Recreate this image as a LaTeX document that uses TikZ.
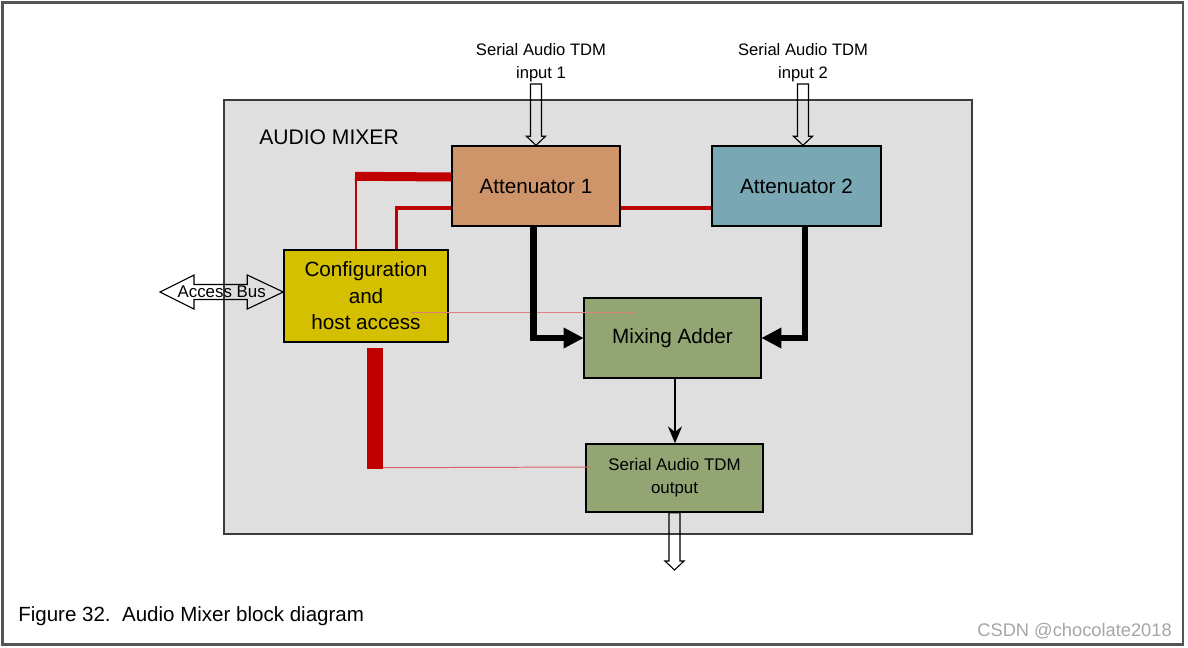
\documentclass[tikz,border=0pt]{standalone}
\usepackage{fontspec}
\setmainfont{Liberation Sans}
\usepackage{tikz}
\usetikzlibrary{positioning, arrows.meta, calc}

\definecolor{attone}{RGB}{207,149,106}
\definecolor{atttwo}{RGB}{122,167,180}
\definecolor{cfgyellow}{RGB}{212,192,0}
\definecolor{sumgreen}{RGB}{148,165,116}
\definecolor{mixgray}{RGB}{223,223,223}
\definecolor{mixedge}{RGB}{60,60,60}
\definecolor{framegray}{RGB}{85,85,85}
\definecolor{ctrlred}{RGB}{192,0,0}
\definecolor{markgray}{RGB}{165,165,165}

\begin{document}
\begin{tikzpicture}[
    x=0.025cm, y=-0.025cm,
    block/.style={draw, line width=1pt, align=center, inner sep=0pt, font=\fontsize{14.7}{18.8}\selectfont},
    tdm/.style={align=center, inner sep=1pt, font=\fontsize{11.8}{16.4}\selectfont},
    feed/.style={-{Triangle[length=14pt, width=15pt, line width=0pt]}, line width=4.3pt},
    sum/.style={-{Stealth[length=12pt, width=10pt]}, line width=1.4pt},
    redbar/.style={draw=ctrlred, line width=#1},
    fatdown/.style={draw, line width=0.8pt, to path={
        ($(\tikztostart)+(-5.5,0)$) -- ($(\tikztotarget)+(-5.5,-9)$) -- ($(\tikztotarget)+(-9.5,-9)$)
        -- (\tikztotarget) -- ($(\tikztotarget)+(9.5,-9)$) -- ($(\tikztotarget)+(5.5,-9)$)
        -- ($(\tikztostart)+(5.5,0)$) -- cycle}},
    fatboth/.style={draw, line width=0.8pt, to path={
        (\tikztostart) -- ($(\tikztostart)+(34,-17)$) -- ($(\tikztostart)+(34,-7.5)$)
        -- ($(\tikztotarget)+(-36,-7.5)$) -- ($(\tikztotarget)+(-36,-17)$) -- (\tikztotarget)
        -- ($(\tikztotarget)+(-36,17)$) -- ($(\tikztotarget)+(-36,7.5)$)
        -- ($(\tikztostart)+(34,7.5)$) -- ($(\tikztostart)+(34,17)$) -- cycle}}
]
    \useasboundingbox (0,0) rectangle (1188,647);
    \draw[line width=2.1pt, draw=framegray] (2.5,2.5) rectangle (1183,644.5);

    % NODES
    \node[draw=mixedge, line width=1.4pt, fill=mixgray, minimum width=18.7cm, minimum height=10.85cm] (mixer) at (598,317) {};
    \node[anchor=west, inner sep=0pt, font=\fontsize{15}{18}\selectfont] (title) at (259,137) {AUDIO MIXER};

    \node[block, fill=attone, minimum width=4.2cm, minimum height=2cm] (att1) at (536,186) {Attenuator 1};
    \node[block, fill=atttwo, minimum width=4.225cm, minimum height=2cm] (att2) at (796.5,186) {Attenuator 2};
    \node[block, fill=cfgyellow, minimum width=4.1cm, minimum height=2.3cm] (config) at (366,296) {Configuration\\and\\host access};
    \node[block, fill=sumgreen, minimum width=4.425cm, minimum height=2cm] (mix) at (672.5,338) {Mixing Adder};
    \node[block, fill=sumgreen, minimum width=4.425cm, minimum height=1.7cm, font=\fontsize{12}{16.4}\selectfont] (out) at (674.5,478) {Serial Audio TDM\\output};

    \node[tdm] (in1) at (541,63) {Serial Audio TDM\\input 1};
    \node[tdm] (in2) at (803,63) {Serial Audio TDM\\input 2};

    \coordinate (busend) at (160,292);
    \coordinate (outend) at (674.5,570);

    \node[anchor=west, inner sep=0pt, font=\fontsize{14.6}{17}\selectfont] (caption) at (18,616) {Figure 32.~~Audio Mixer block diagram};
    \node[anchor=east, inner sep=0pt, text=markgray, font=\fontsize{13}{15}\selectfont] (mark) at (1172,631) {CSDN @chocolate2018};

    % EDGES
    \draw[fatdown] (in1.south -| att1.north) to (att1.north);
    \draw[fatdown] (in2.south) to (in2.south |- att2.north);
    \draw[fatdown] (out.south) to (outend);
    \draw[fatboth] (busend) to (config.west |- busend);
    \node[inner sep=0pt, font=\fontsize{12}{14}\selectfont] (bus) at ($(busend)!0.5!(config.west |- busend)$) {Access Bus};

    \draw[redbar=6.4pt] ($(att1.west)+(0,-9)$) -- ($(config.north)+(-11,-73)$);
    \draw[redbar=1.4pt] ($(config.north)+(-10,-77.5)$) -- ($(config.north)+(-10,0)$);
    \draw[redbar=2.5pt] ($(att1.west)+(0,22)$) -| ($(config.north)+(30.5,0)$);
    \draw[redbar=2.2pt] ($(att1.east)+(0,22)$) -- ($(att2.west)+(0,22)$);
    \draw[redbar=11.8pt] ($(config.south)+(9,5)$) -- ($(config.south)+(9,126)$);
    \draw[redbar=0.7pt, draw=ctrlred!60] ($(config.south)+(17,125)$) -- ($(out.west)+(4,-11)$);
    \draw[redbar=0.4pt, draw=ctrlred!50] ($(config.east)+(-38,16)$) -- ($(mix.west)+(52,-26)$);

    \draw[feed] ($(att1.south)+(-2.5,0)$) |- (mix.west);
    \draw[feed] ($(att2.south)+(8.5,0)$) |- (mix.east);
    \draw[sum] ($(mix.south)+(2.5,0)$) -- ($(out.north)+(0.5,0)$);

\end{tikzpicture}
\end{document}
